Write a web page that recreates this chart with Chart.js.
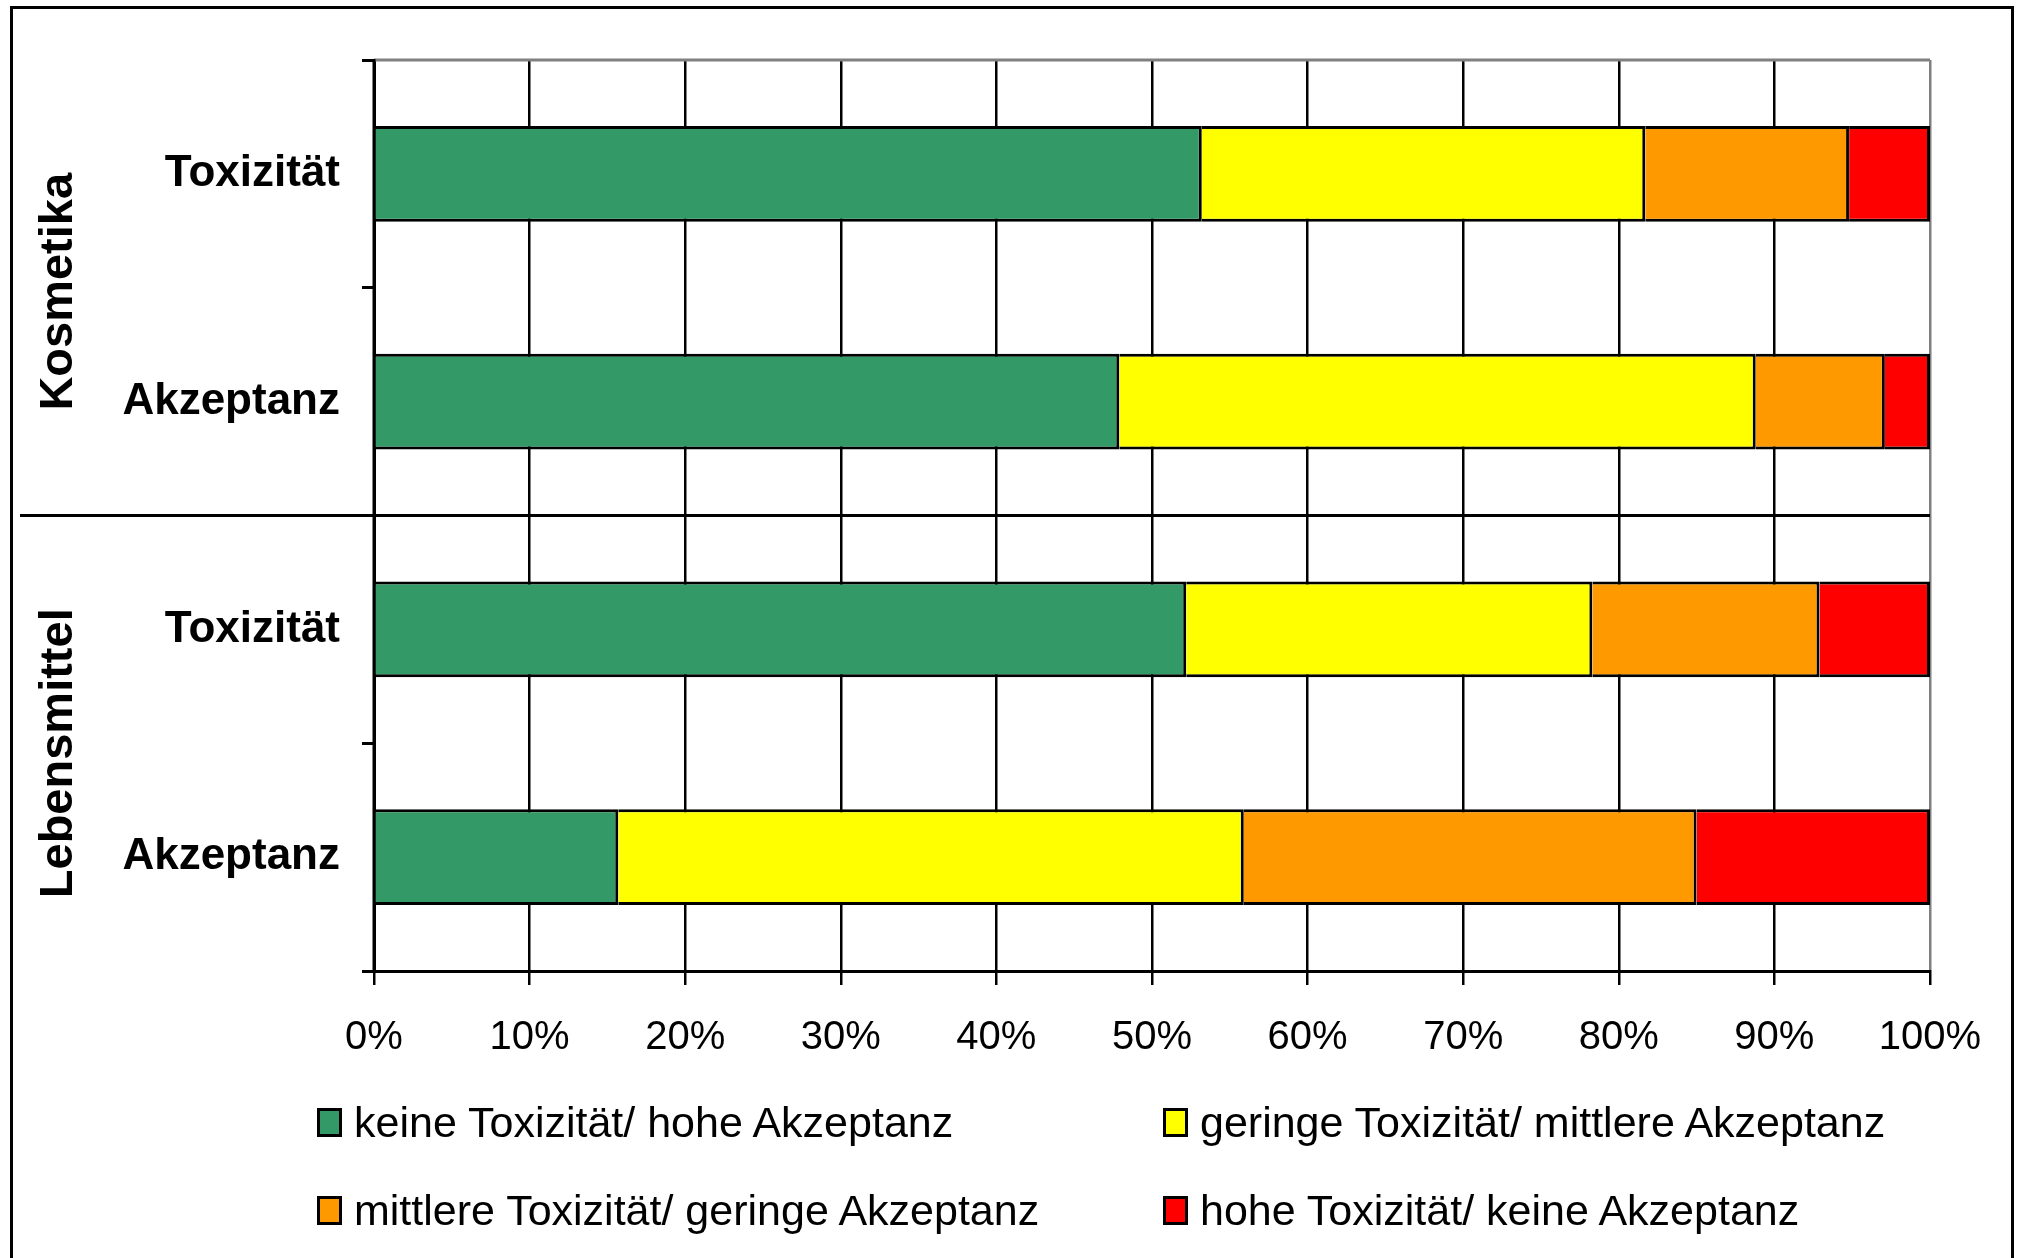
<!DOCTYPE html>
<html>
<head>
<meta charset="utf-8">
<script src="https://cdn.jsdelivr.net/npm/chart.js@4"></script>
<style>
    body { margin: 0; background: #fff; }
    #frame {
        position: absolute; left: 10px; top: 6px; width: 2004px; height: 1400px;
        border: 3px solid #000; box-sizing: border-box;
    }
    #wrap { position: absolute; left: 0; top: 0; width: 2022px; height: 1258px; overflow: hidden; }
    canvas { position: absolute; left: 0; top: 0; }
    .item {
        position: absolute; height: 50px; display: flex; align-items: center;
        font: 43px "Liberation Sans", Arial, sans-serif; color: #000; white-space: nowrap;
    }
    .box {
        width: 25px; height: 29px; border: 3px solid #000; box-sizing: border-box;
        margin-right: 12px;
    }
</style>
</head>
<body>
<div id="wrap">
    <div id="frame"></div>
    <canvas id="chart" width="2022" height="1258"></canvas>
    <div id="legend"></div>
</div>
<script>
// categories (top to bottom) and groups
const categories = ['Toxizität', 'Akzeptanz', 'Toxizität', 'Akzeptanz'];
const groups = ['Kosmetika', 'Lebensmittel'];

// series values in percent
const keine = [53.2, 47.9, 52.2, 15.7];
const geringe = [28.5, 40.9, 26.1, 40.2];
const mittlere = [13.1, 8.3, 14.6, 29.1];
const hohe = [5.2, 2.9, 7.1, 15.0];

const seriesNames = [
    'keine Toxizität/ hohe Akzeptanz',
    'geringe Toxizität/ mittlere Akzeptanz',
    'mittlere Toxizität/ geringe Akzeptanz',
    'hohe Toxizität/ keine Akzeptanz'
];
const seriesColors = ['#339966', '#FFFF00', '#FF9900', '#FF0000'];

const xTicks = [0, 10, 20, 30, 40, 50, 60, 70, 80, 90, 100];

const FONT = '"Liberation Sans", Arial, sans-serif';

// extra lines and the rotated group labels
const groupShift = [4, 10];
const extras = {
    id: 'extras',
    afterDatasetsDraw(chart) {
        const { ctx, chartArea: a } = chart;
        const y = chart.scales.y;
        const line = (x1, y1, x2, y2) => {
            ctx.beginPath(); ctx.moveTo(x1, y1); ctx.lineTo(x2, y2); ctx.stroke();
        };
        ctx.save();
        ctx.lineWidth = 3;
        ctx.strokeStyle = '#808080';
        line(a.left, a.top, a.right, a.top);
        ctx.strokeStyle = '#000';
        line(a.left, a.top - 1, a.left, a.bottom + 1);
        const sepY = (y.getPixelForValue(1) + y.getPixelForValue(2)) / 2;
        line(20, sepY, a.right, sepY);

        ctx.font = 'bold 47px ' + FONT;
        ctx.fillStyle = '#000';
        ctx.textAlign = 'center';
        ctx.textBaseline = 'alphabetic';
        groups.forEach((g, i) => {
            const cy = (y.getPixelForValue(i * 2) + y.getPixelForValue(i * 2 + 1)) / 2 + groupShift[i];
            ctx.save();
            ctx.translate(72, cy);
            ctx.rotate(-Math.PI / 2);
            ctx.fillText(g, 0, 0);
            ctx.restore();
        });
        ctx.restore();
    }
};

const values = [keine, geringe, mittlere, hohe];

const ctx = document.getElementById('chart').getContext('2d');
const chart = new Chart(ctx, {
    type: 'bar',
    data: {
        labels: categories,
        datasets: values.map((v, i) => ({
            label: seriesNames[i],
            data: v,
            backgroundColor: seriesColors[i],
            borderColor: '#000',
            borderWidth: 3,
            categoryPercentage: 1,
            barPercentage: 0.42
        }))
    },
    options: {
        indexAxis: 'y',
        responsive: false,
        animation: false,
        devicePixelRatio: 1,
        layout: { padding: { top: 60, right: 92, left: 0, bottom: 187 } },
        plugins: {
            legend: { display: false },
            tooltip: { enabled: false }
        },
        scales: {
            x: {
                stacked: true,
                min: 0,
                max: 100,
                afterBuildTicks: s => { s.ticks = xTicks.map(v => ({ value: v })); },
                afterFit: s => { s.height = 100; },
                ticks: {
                    color: '#000',
                    font: { family: FONT, size: 40 },
                    padding: 29,
                    maxRotation: 0,
                    callback: v => v + '%'
                },
                grid: {
                    color: c => (c.tick && c.tick.value === 100 ? '#808080' : '#000'),
                    lineWidth: 2.5,
                    tickLength: 14,
                    tickColor: '#000',
                    tickWidth: 2.5
                },
                border: { color: '#000', width: 3 }
            },
            y: {
                stacked: true,
                afterFit: s => { s.width = 374; },
                ticks: {
                    color: '#000',
                    font: { family: FONT, size: 44, weight: 'bold' },
                    padding: 22
                },
                grid: {
                    offset: true,
                    drawOnChartArea: false,
                    tickLength: 12,
                    tickColor: '#000',
                    tickWidth: 3
                },
                border: { color: '#000', width: 3 }
            }
        }
    },
    plugins: [extras]
});

// legend in two columns, built from the chart's datasets
const legendPos = [
    { left: 317, top: 1097 },
    { left: 1163, top: 1097 },
    { left: 317, top: 1185 },
    { left: 1163, top: 1185 }
];
document.getElementById('legend').innerHTML = chart.data.datasets.map((ds, i) => `
    <div class="item" style="left:${legendPos[i].left}px;top:${legendPos[i].top}px">
        <span class="box" style="background:${ds.backgroundColor}"></span>${ds.label}</div>
`).join('');
</script>
</body>
</html>
